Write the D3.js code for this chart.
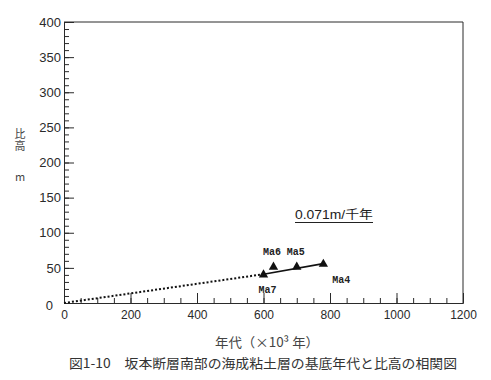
<!DOCTYPE html>
<html><head><meta charset="utf-8">
<script src="https://cdn.jsdelivr.net/npm/d3@7"></script>
<style>body{margin:0;background:#fff}svg{display:block}</style>
</head><body>
<svg id="c" width="491" height="380"></svg>
<script>
const labels = ["Ma7", "Ma6", "Ma5", "Ma4"];
const ages = [600, 630, 700, 780];
const heights = [41, 52, 52, 56];
const xMajorTicks = [0, 200, 400, 600, 800, 1000, 1200];
const yMajorTicks = [0, 50, 100, 150, 200, 250, 300, 350, 400];
const rateLabel = "0.071m/千年";
const xTitle = "年代（×10³ 年）";
const yTitle = "比高";
const yUnit = "m";
const caption = "図1-10　坂本断層南部の海成粘土層の基底年代と比高の相関図";

const svg = d3.select("#c");
const ink = "#2a2a2a";
const x = d3.scaleLinear().domain([0, 1200]).range([64, 463]);
const y = d3.scaleLinear().domain([0, 400]).range([303, 22]);

// minor ticks
svg.append("g").attr("transform", "translate(0,303)")
  .call(d3.axisBottom(x).tickValues(d3.range(0, 1201, 50)).tickSize(-5).tickFormat(""))
  .call(g => g.select(".domain").remove());
svg.append("g").attr("transform", "translate(64,0)")
  .call(d3.axisLeft(y).tickValues(d3.range(0, 401, 10)).tickSize(-5).tickFormat(""))
  .call(g => g.select(".domain").remove());
// major
const xa = svg.append("g").attr("transform", "translate(0,303)")
  .call(d3.axisBottom(x).tickValues(xMajorTicks).tickSize(-10).tickPadding(7).tickFormat(d3.format("d")));
const ya = svg.append("g").attr("transform", "translate(64,0)")
  .call(d3.axisLeft(y).tickValues(yMajorTicks).tickSize(-10).tickPadding(3).tickFormat(d3.format("d")));
[xa, ya].forEach(g => {
  g.selectAll("line,path").attr("stroke", ink).attr("stroke-width", 1);
  g.selectAll("text").attr("font-family", "Liberation Sans, Arial, sans-serif")
    .attr("font-size", 13).attr("fill", ink);
});
svg.selectAll("g line").attr("stroke", ink);
xa.selectAll("text").attr("font-size", 12);
ya.selectAll(".tick").filter(d => d === 0).select("text").attr("dx", -8).attr("dy", "0.5em");
ya.selectAll(".tick").filter(d => d === 0).select("line").remove();
// box top/right
svg.append("path")
  .attr("d", `M${x(0)},${y(400)}H${x(1200)}V${y(0)}`)
  .attr("fill", "none").attr("stroke", ink).attr("stroke-width", 1);

// dotted trend from origin
svg.append("line")
  .attr("x1", x(0)).attr("y1", y(0)).attr("x2", x(ages[0])).attr("y2", y(heights[0]))
  .attr("stroke", "#111").attr("stroke-width", 2).attr("stroke-dasharray", "2,2");
// solid line
svg.append("line")
  .attr("x1", x(ages[0])).attr("y1", y(heights[0]))
  .attr("x2", x(ages[ages.length - 1])).attr("y2", y(heights[heights.length - 1]))
  .attr("stroke", "#111").attr("stroke-width", 1.6);

// markers
const tri = d3.symbol().type(d3.symbolTriangle).size(38);
svg.selectAll(".pt").data(ages).join("path")
  .attr("d", tri).attr("fill", "#111")
  .attr("transform", (d, i) => `translate(${x(d)},${y(heights[i]) + 0.5})`);

const off = [[4, 15], [-1.5, -15], [-1, -15], [18, 15]];
svg.selectAll(".lb").data(labels).join("text")
  .attr("x", (d, i) => x(ages[i]) + off[i][0])
  .attr("y", (d, i) => y(heights[i]) + off[i][1])
  .attr("dy", "0.35em").attr("text-anchor", "middle")
  .attr("font-family", "Liberation Mono, DejaVu Sans Mono, monospace")
  .attr("font-size", 11.5).attr("font-weight", "bold").attr("fill", "#222")
  .attr("textLength", 18).attr("lengthAdjust", "spacingAndGlyphs")
  .text(d => d);

// rate annotation
svg.append("text").attr("x", 295).attr("y", 219)
  .attr("font-family", "Liberation Sans, Noto Sans CJK JP, sans-serif")
  .attr("font-size", 12).attr("fill", "#222")
  .attr("textLength", 78).attr("lengthAdjust", "spacingAndGlyphs")
  .text(rateLabel);
svg.append("line").attr("x1", 295).attr("x2", 373).attr("y1", 222.5).attr("y2", 222.5)
  .attr("stroke", "#222").attr("stroke-width", 1.2);

// axis titles
svg.append("text").attr("x", 267).attr("y", 342).attr("dy", "0.35em")
  .attr("text-anchor", "middle")
  .attr("font-family", "Noto Sans CJK JP, sans-serif").attr("font-size", 13).attr("fill", "#444")
  .attr("textLength", 104).attr("lengthAdjust", "spacingAndGlyphs")
  .text(xTitle);
svg.append("text").attr("x", 20).attr("y", 140)
  .attr("writing-mode", "vertical-rl").attr("text-anchor", "middle")
  .attr("font-family", "Noto Sans CJK JP, sans-serif").attr("font-size", 11).attr("fill", "#444")
  .attr("letter-spacing", 1)
  .text(yTitle);
svg.append("text").attr("x", 20).attr("y", 177).attr("dy", "0.35em").attr("text-anchor", "middle")
  .attr("font-family", "Noto Sans CJK JP, sans-serif").attr("font-size", 11).attr("fill", "#444")
  .text(yUnit);

// caption
svg.append("text").attr("x", 69).attr("y", 363).attr("dy", "0.35em")
  .attr("font-family", "Noto Sans CJK JP, sans-serif").attr("font-size", 13).attr("fill", "#333")
  .attr("textLength", 388).attr("lengthAdjust", "spacingAndGlyphs")
  .text(caption);
</script>
</body></html>
